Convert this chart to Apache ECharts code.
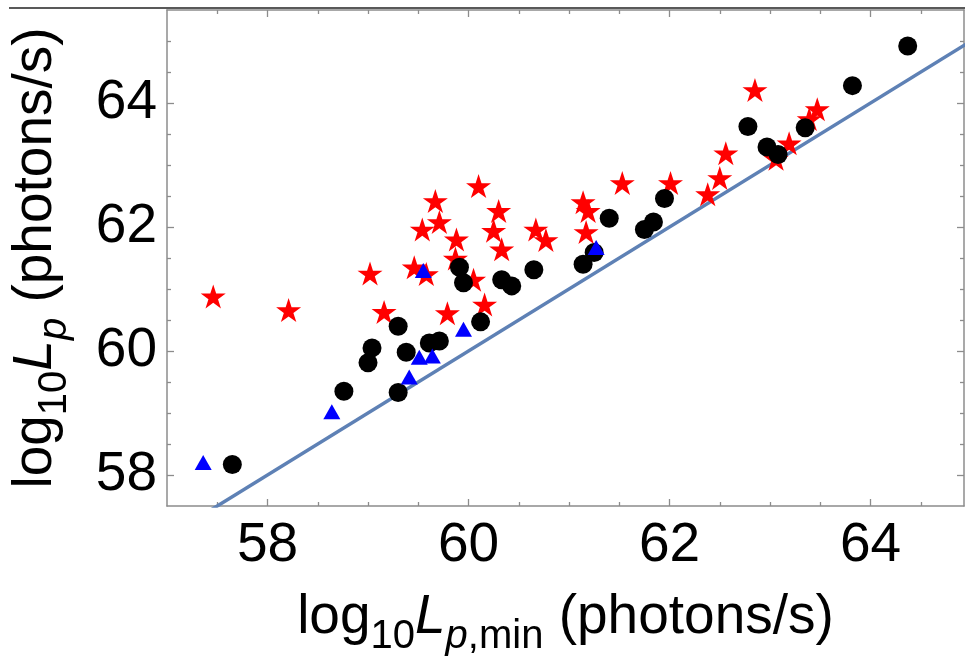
<!DOCTYPE html>
<html>
<head>
<meta charset="utf-8">
<script src="https://cdn.jsdelivr.net/npm/echarts@6/dist/echarts.min.js"></script>
<style>
html,body{margin:0;padding:0;background:#fff;}
#chart{width:965px;height:662px;}
</style>
</head>
<body>
<div id="chart"></div>
<script>
// ---- data ----
var circleX = [57.65,58.76,59.00,59.04,59.30,59.30,59.38,59.61,59.71,59.91,59.95,60.12,60.33,60.43,60.65,61.14,61.25,61.40,61.75,61.84,61.95,62.78,62.97,63.08,63.35,63.82,64.37];
var circleY = [58.17,59.35,59.81,60.05,60.40,59.33,59.98,60.13,60.16,61.35,61.10,60.47,61.15,61.05,61.31,61.40,61.59,62.14,61.96,62.08,62.46,63.62,63.29,63.17,63.60,64.28,64.92];

var triX = [57.36,58.64,59.41,59.51,59.64,59.55,59.95,61.27];
var triY = [58.20,59.02,59.58,59.90,59.92,61.30,60.35,61.67];

var starX = [57.46,58.21,59.02,59.16,59.46,59.58,59.87,60.05,59.79,60.16,60.33,60.77,59.88,60.10,59.67,59.71,59.54,60.30,60.25,60.67,61.14,61.19,61.17,61.53,62.01,62.38,62.50,62.56,63.06,63.19,63.39,63.47,62.85];
var starY = [60.88,60.66,61.25,60.63,61.35,61.24,61.49,61.15,60.61,60.75,61.64,61.79,61.80,62.66,62.42,62.08,61.96,62.26,61.94,61.96,62.40,62.26,61.92,62.71,62.71,62.53,62.79,63.19,63.10,63.35,63.74,63.90,64.21];

var lineX = [57, 65];
var lineY = [57, 65];

var xMin = 57, xMax = 64.93;
var yMin = 57.5, yMax = 65.5;
var xMajor = [58, 60, 62, 64];
var xMinor = [57.5, 58.5, 59, 59.5, 60.5, 61, 61.5, 62.5, 63, 63.5, 64.5];
var yMajor = [58, 60, 62, 64];
var yMinor = [58.5, 59, 59.5, 60.5, 61, 61.5, 62.5, 63, 63.5, 64.5, 65];

function zip(a, b){ return a.map(function(v,i){ return [v, b[i]]; }); }

// ---- styles ----
var FONT = 'Liberation Sans';
var frameColor = '#8c8c8c';
var rich = {
  n:  {fontSize: 55, fontFamily: FONT, color: '#000', verticalAlign: 'bottom', padding: [0,0,12,0]},
  i:  {fontSize: 55, fontFamily: FONT, color: '#000', fontStyle: 'italic', verticalAlign: 'bottom', padding: [0,0,12,0]},
  s:  {fontSize: 40, fontFamily: FONT, color: '#000', verticalAlign: 'bottom'},
  si: {fontSize: 40, fontFamily: FONT, color: '#000', fontStyle: 'italic', verticalAlign: 'bottom'}
};
var starPath = 'path://M0,-1 L0.2245,-0.309 L0.951,-0.309 L0.363,0.118 L0.588,0.809 L0,0.382 L-0.588,0.809 L-0.363,0.118 L-0.951,-0.309 L-0.2245,-0.309 Z';

function axisSet(kind, pos, major, minor, withLabel, name){
  var mn = kind === 'x' ? xMin : yMin, mx = kind === 'x' ? xMax : yMax;
  var base = {
    type: 'value', position: pos, min: mn, max: mx, gridIndex: 0,
    splitLine: {show: false}
  };
  var a = Object.assign({}, base, {
    axisLine: {show: true, onZero: false, lineStyle: {color: frameColor, width: 1.5}},
    axisTick: {show: true, inside: true, length: 7, customValues: major, lineStyle: {color: frameColor, width: 1.3}},
    axisLabel: withLabel ? {show: true, customValues: major, fontSize: 55, fontFamily: FONT, color: '#000', margin: kind === 'x' ? 12 : 10} : {show: false}
  });
  if (name) {
    a.name = name.text;
    a.nameLocation = 'middle';
    a.nameGap = name.gap;
    a.nameRotate = name.rotate;
    a.nameTextStyle = {rich: rich, fontFamily: FONT};
  }
  var b = Object.assign({}, base, {
    axisLine: {show: false},
    axisTick: {show: true, inside: true, length: 4, customValues: minor, lineStyle: {color: frameColor, width: 1.3}},
    axisLabel: {show: false}
  });
  return [a, b];
}

var xAxes = [].concat(
  axisSet('x', 'bottom', xMajor, xMinor, true, {text: '{n|log}{s|10}{i|L}{si|p}{s|,min}{n| (photons/s)}', gap: 84, rotate: 0}),
  axisSet('x', 'top', xMajor, xMinor, false, null)
);
var yAxes = [].concat(
  axisSet('y', 'left', yMajor, yMinor, true, {text: '{n|log}{s|10}{i|L}{si|p}{n| (photons/s)}', gap: 92, rotate: 90}),
  axisSet('y', 'right', yMajor, yMinor, false, null)
);

var chart = echarts.init(document.getElementById('chart'), null, {renderer: 'canvas'});
chart.setOption({
  animation: false,
  backgroundColor: '#fff',
  grid: {left: 163.35, top: 10, right: 1, bottom: 154, containLabel: false},
  xAxis: xAxes,
  yAxis: yAxes,
  graphic: [{
    type: 'line', shape: {x1: 9, y1: 8, x2: 965, y2: 8},
    style: {stroke: '#222', lineWidth: 1.5}, z: 100
  }],
  series: [
    {
      type: 'line', xAxisIndex: 0, yAxisIndex: 0, data: zip(lineX, lineY),
      symbol: 'none', clip: true, z: 1,
      lineStyle: {color: '#5e81b5', width: 3.5}
    },
    {
      type: 'scatter', xAxisIndex: 0, yAxisIndex: 0, data: zip(starX, starY),
      symbol: starPath, symbolSize: [25, 24], z: 2,
      itemStyle: {color: '#ff0000', opacity: 1}
    },
    {
      type: 'scatter', xAxisIndex: 0, yAxisIndex: 0, data: zip(circleX, circleY),
      symbol: 'circle', symbolSize: 19, z: 3,
      itemStyle: {color: '#000000', opacity: 1}
    },
    {
      type: 'scatter', xAxisIndex: 0, yAxisIndex: 0, data: zip(triX, triY),
      symbol: 'triangle', symbolSize: [17, 15], z: 4,
      itemStyle: {color: '#0000ff', opacity: 1}
    }
  ]
});
</script>
</body>
</html>
